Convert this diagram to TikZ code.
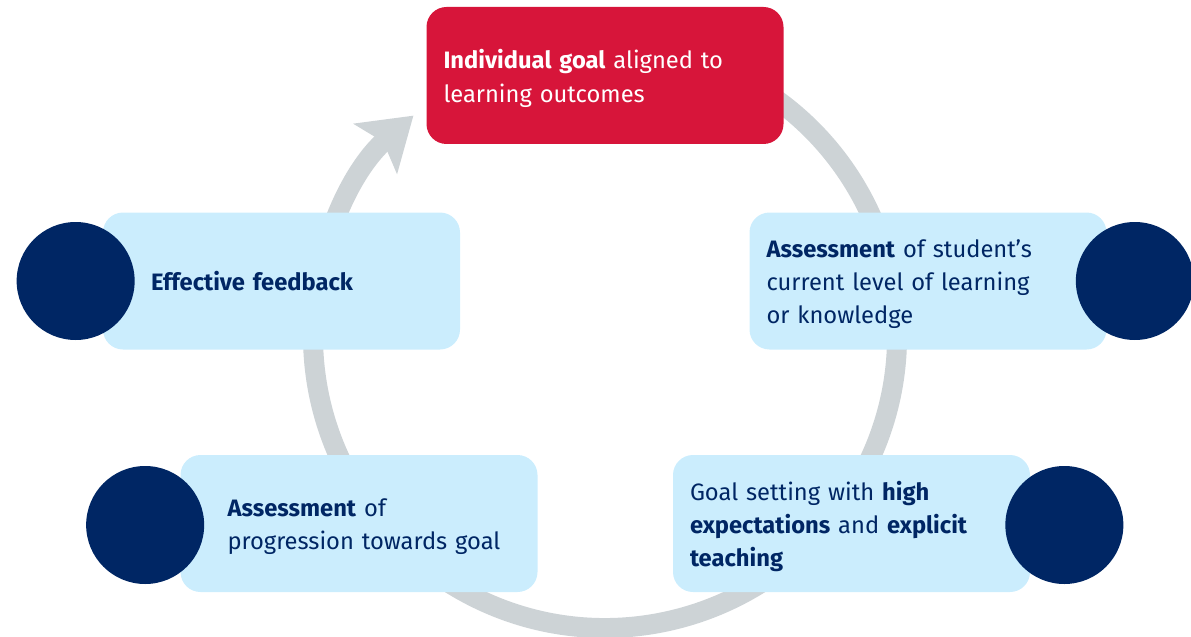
\documentclass[tikz,border=0pt]{standalone}
\usepackage{fontspec}
\setmainfont{Fira Sans}
\usetikzlibrary{arrows.meta}
\definecolor{cyclered}{HTML}{D7153A}
\definecolor{cyclenavy}{HTML}{002664}
\definecolor{cyclesky}{HTML}{CBEDFD}
\definecolor{cyclegrey}{HTML}{CDD3D6}

\begin{document}
\begin{tikzpicture}[
	box/.style={rounded corners=.4cm, minimum width=7.14cm, minimum height=2.74cm, inner xsep=.34cm, text width=6.46cm, align=left, font=\fontsize{13.5}{19}\selectfont, execute at end node={\endgraf\vspace*{-.12cm}}},
	stepbox/.style={box, fill=cyclesky, text=cyclenavy},
	indent/.style={execute at begin node={\leftskip=#1}},
	dot/.style={circle, fill=cyclenavy, minimum size=2.36cm, inner sep=0pt},
	ring/.style={draw=cyclegrey, line width=.4cm, -{Stealth[length=1cm,width=1.3cm,inset=.2cm]}}
]
	\useasboundingbox (0,0) rectangle (23.82,12.72);

	% cycle behind the boxes
	\coordinate (hub) at (12.1,6);
	\draw[ring] ([shift={(60:5.84)}]hub) arc (60:-229:5.84);

	% top goal
	\node[box, fill=cyclered, text=white] (goal) at (12.1,11.21) {\textbf{Individual goal} aligned to\\learning outcomes};

	% steps
	\node[stepbox, indent=.62cm] (feedback) at (5.63,7.1) {\textbf{Effective feedback}};
	\node[stepbox] (current) at (18.56,7.1) {\textbf{Assessment} of student’s\\current level of learning\\or knowledge};
	\node[stepbox, indent=.6cm] (progress) at (7.18,2.25) {\textbf{Assessment} of\\progression towards goal};
	\node[stepbox] (expect) at (17.03,2.25) {Goal setting with \textbf{high}\\\textbf{expectations} and \textbf{explicit}\\\textbf{teaching}};

	% dots
	\node[dot] (feedbackdot) at ([xshift=-.54cm]feedback.west) {};
	\node[dot] (currentdot) at ([xshift=.56cm]current.east) {};
	\node[dot] (progressdot) at ([xshift=-.7cm,yshift=-.03cm]progress.west) {};
	\node[dot] (expectdot) at ([xshift=.68cm,yshift=-.03cm]expect.east) {};
\end{tikzpicture}
\end{document}
